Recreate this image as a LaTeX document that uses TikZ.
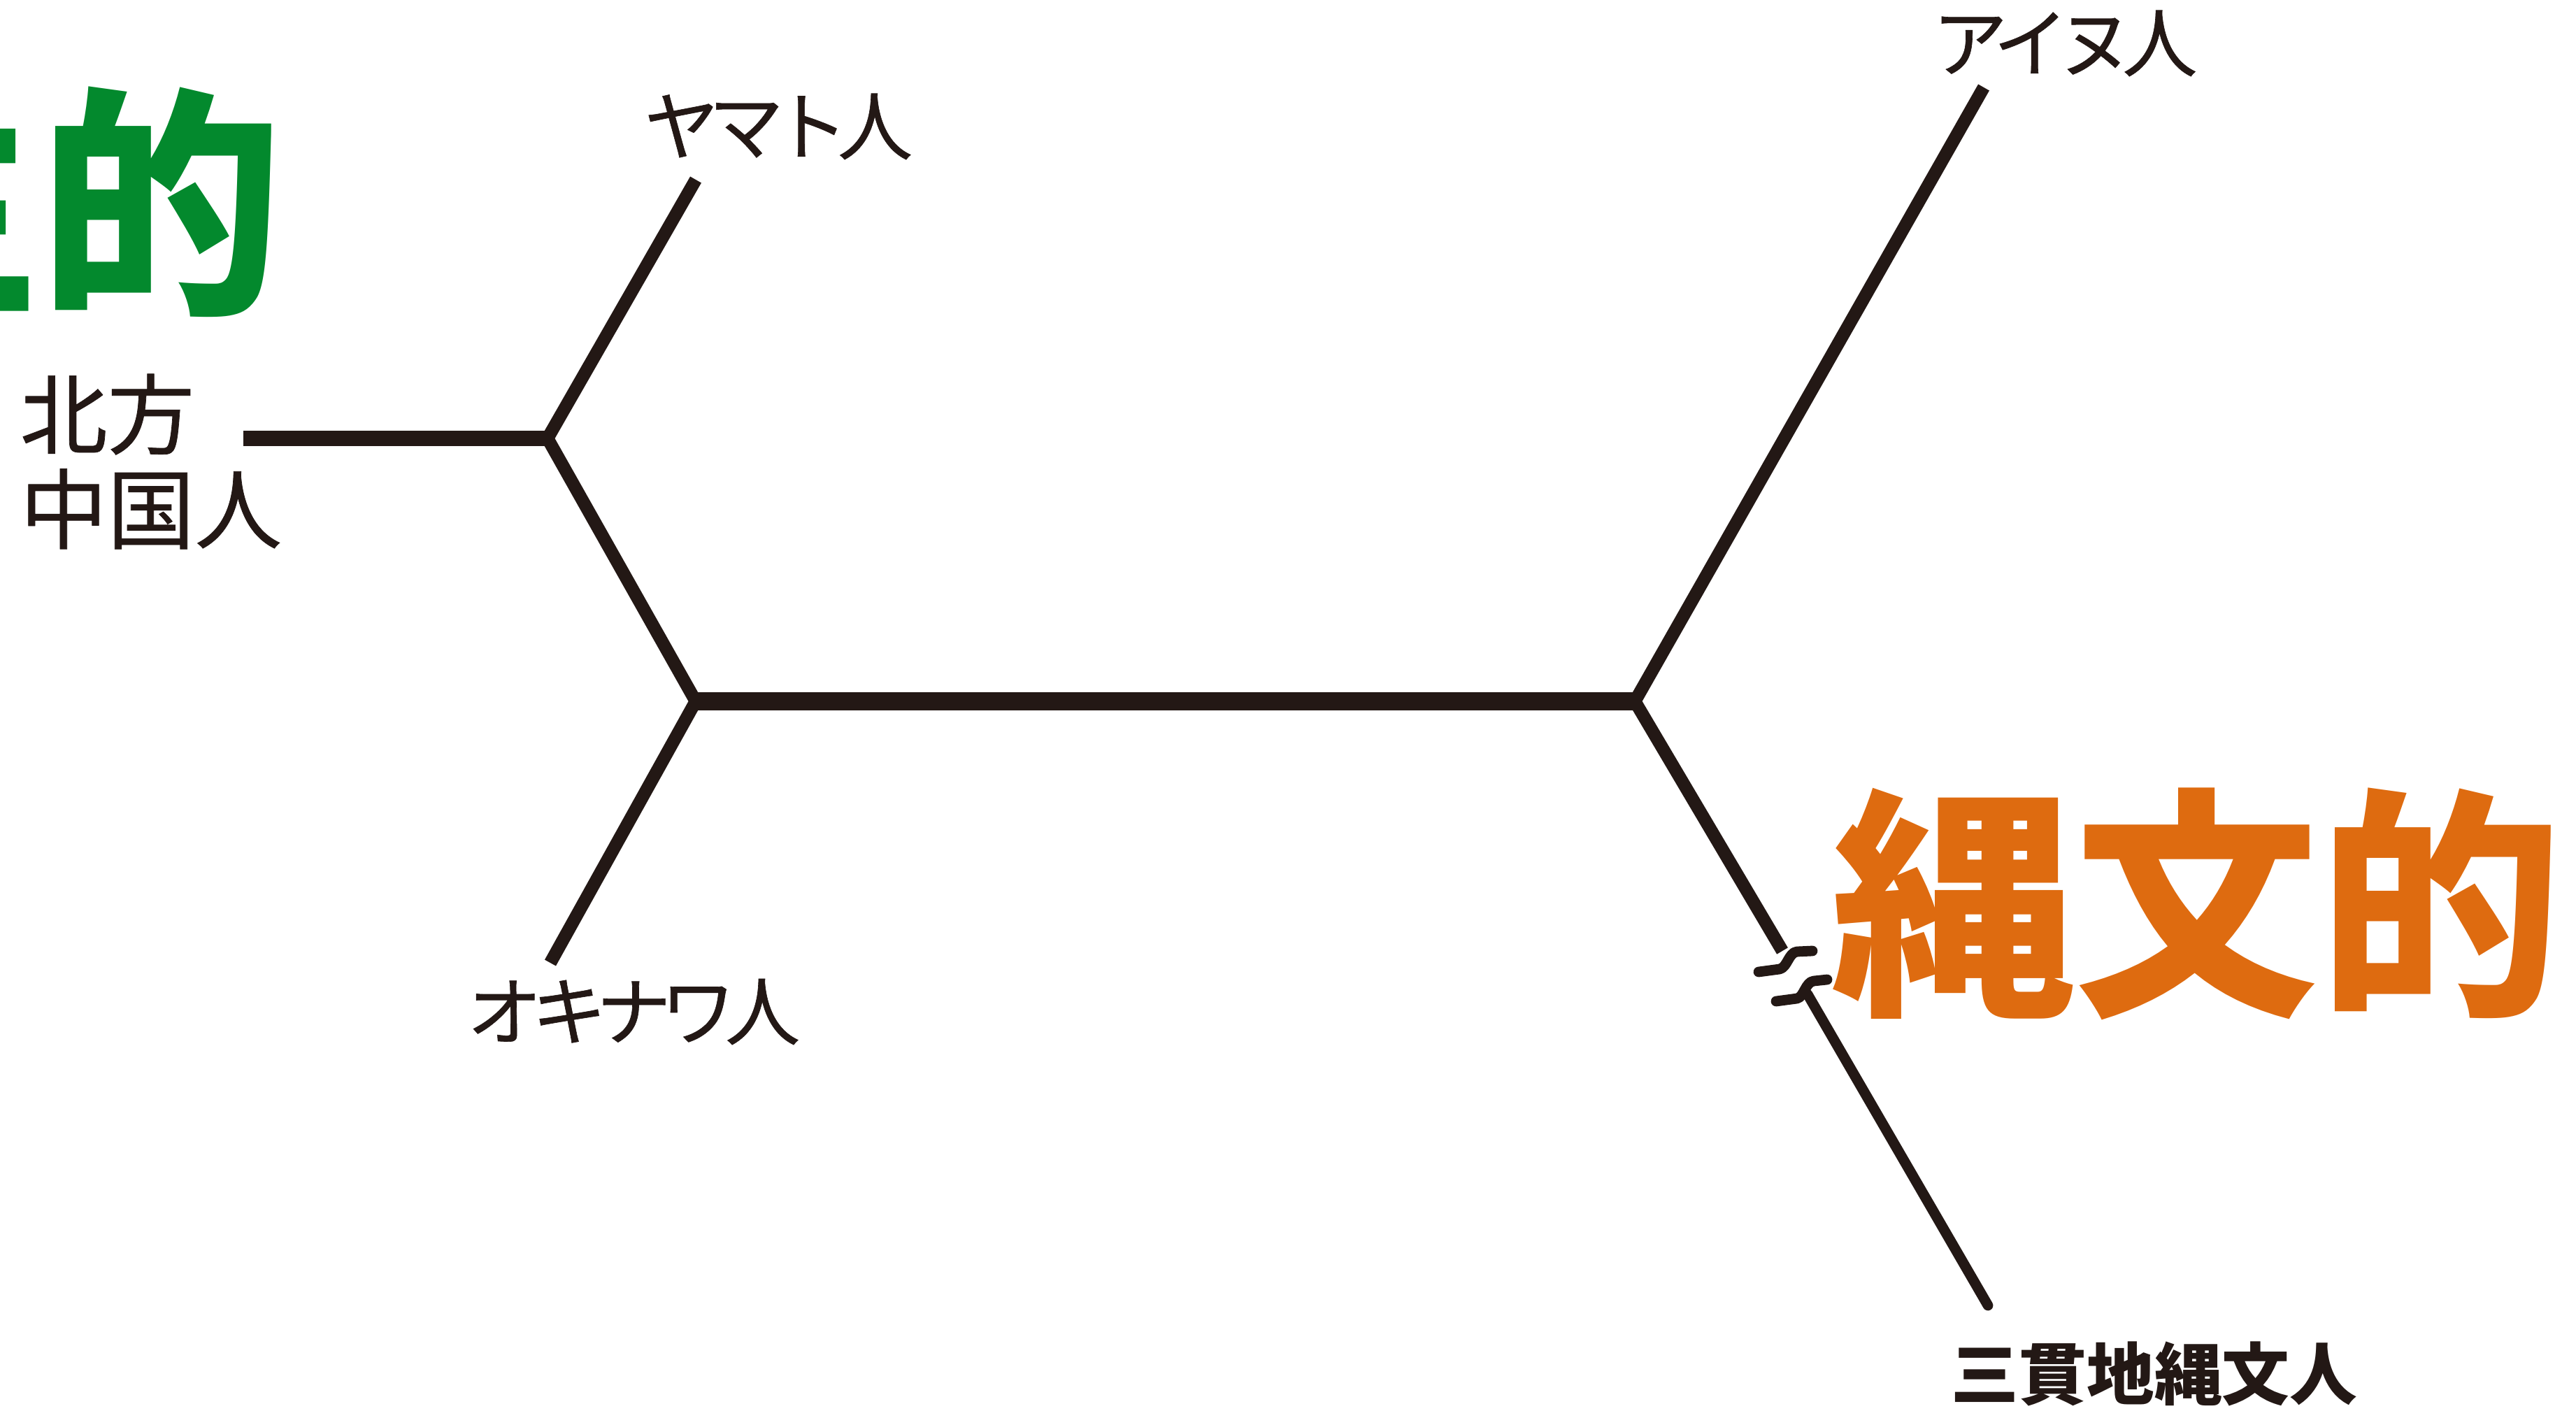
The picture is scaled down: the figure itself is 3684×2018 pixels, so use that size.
\documentclass[tikz,border=0pt]{standalone}
\usepackage{fontspec}
\newfontfamily\jp[FakeBold=0.6]{Noto Sans CJK JP}
\newfontfamily\jpkana[FakeBold=0.6,LetterSpace=-14]{Noto Sans CJK JP}
\newfontfamily\jpbig{Noto Sans CJK JP}
\definecolor{ink}{HTML}{231815}
\definecolor{yayoi}{HTML}{03892D}
\definecolor{jomon}{HTML}{DE6B10}
\tikzset{
  branch/.style={draw=ink, line width=5.2pt, line join=miter, line cap=butt},
  trunk/.style={draw=ink, line width=7.6pt, line cap=butt},
  stem/.style={draw=ink, line width=6.4pt, line cap=butt},
  thinbranch/.style={draw=ink, line width=4.2pt, line cap=round},
  breakmark/.style={draw=ink, line width=4.2pt, line cap=round, line join=round},
  lbl/.style={text=ink, inner sep=0pt, font=\jpkana\fontsize{30.5pt}{34pt}\selectfont},
  big/.style={inner sep=0pt, font=\jpbig\bfseries\fontsize{99pt}{110pt}\selectfont}
}
\begin{document}
\begin{tikzpicture}[x=0.01cm,y=-0.01cm]
\useasboundingbox (0,0) rectangle (3684,2018);
% coordinates
\coordinate (A) at (348,627);
\coordinate (J1) at (783,627);
\coordinate (Ye) at (995,257);
\coordinate (J2) at (995,1003);
\coordinate (Oe) at (787,1377);
\coordinate (J3) at (2338,1003);
\coordinate (Ae) at (2837,125);
\coordinate (B1) at (2549,1360);
\coordinate (B2) at (2585,1422);
\coordinate (Se) at (2843,1867);
% labels
\node[lbl] (yamato) at (1113,181) {ヤマト人};
\node[lbl] (ainu) at (2953,62) {アイヌ人};
\node[lbl] (okinawa) at (906,1447) {オキナワ人};
\node[lbl, anchor=west, align=left, font=\jp\fontsize{35.5pt}{38.5pt}\selectfont] (hoppo) at (28,660) {北方\\中国人};
\node[lbl, font=\jpbig\bfseries\fontsize{27.5pt}{32pt}\selectfont] (sankan) at (3081,1965) {三貫地縄文人};
\node[big, text=jomon] (jomonteki) at (3142,1293) {縄文的};
\node[big, text=yayoi, anchor=east] (yayoiteki) at (405,289) {生的};
% tree
\draw[stem] (A) -- (J1);
\draw[branch] (Ye) -- (J1) -- (J2) -- (Oe);
\draw[trunk] (J2) -- (J3);
\draw[branch] (Ae) -- (J3) -- (B1);
\draw[thinbranch] (B2) -- (Se);
% break marks
\draw[breakmark] (2515,1390) -- (2545,1386) .. controls (2556,1384) and (2558,1362) .. (2570,1361) -- (2592,1360);
\draw[breakmark] (2540,1432) -- (2570,1428) .. controls (2580,1426) and (2582,1404) .. (2594,1403) -- (2613,1401);
\end{tikzpicture}
\end{document}
